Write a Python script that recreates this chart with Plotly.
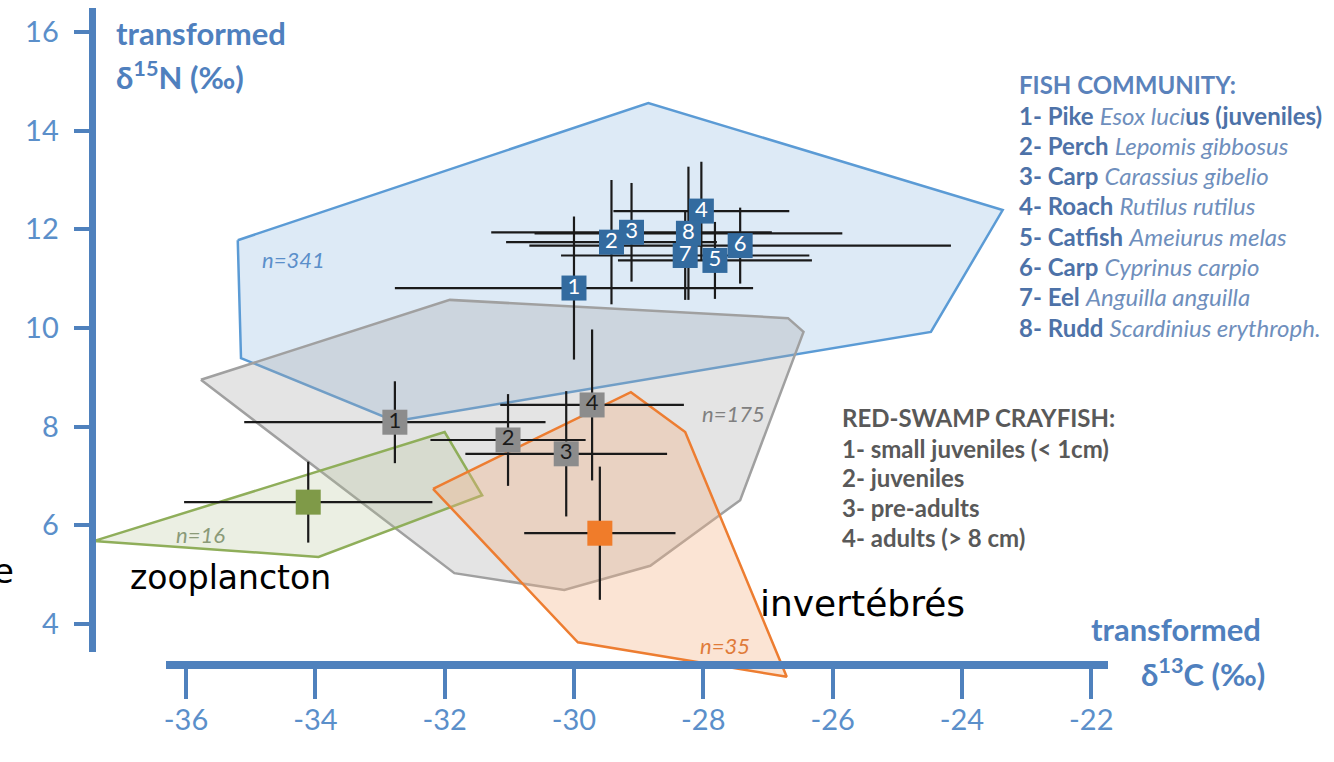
import plotly.graph_objects as go

W, H = 1334, 762

# ---------------- data ----------------
# convex hulls (transformed d13C, transformed d15N)
fish_hull_x = [-35.20, -28.85, -23.37, -24.48, -32.77, -35.15]
fish_hull_y = [11.78, 14.56, 12.39, 9.92, 8.11, 9.39]

cray_hull_x = [-35.77, -31.92, -26.69, -26.45, -27.43, -28.82, -30.15, -31.85]
cray_hull_y = [8.95, 10.57, 10.20, 9.92, 6.51, 5.18, 4.69, 5.03]

zoo_hull_x = [-37.43, -32.00, -31.42, -33.95]
zoo_hull_y = [5.68, 7.89, 6.61, 5.36]

inv_hull_x = [-32.18, -29.12, -28.28, -26.71, -29.94]
inv_hull_y = [6.74, 8.70, 7.89, 2.93, 3.63]

# group means with standard deviations
fish_ids = ["1", "2", "3", "4", "5", "6", "7", "8"]
fish_x = [-30.00, -29.42, -29.11, -28.03, -27.82, -27.43, -28.28, -28.23]
fish_y = [10.81, 11.74, 11.94, 12.37, 11.37, 11.67, 11.47, 11.92]
fish_xsd = [2.77, 1.63, 2.17, 1.36, 1.50, 3.26, 1.92, 2.38]
fish_ysd = [1.45, 1.26, 1.00, 1.00, 0.78, 0.77, 0.90, 1.35]

cray_ids = ["1", "2", "3", "4"]
cray_x = [-32.77, -31.02, -30.12, -29.72]
cray_y = [8.09, 7.73, 7.45, 8.44]
cray_xsd = [2.33, 1.20, 1.56, 1.42]
cray_ysd = [0.83, 0.93, 1.27, 1.53]

zoo_x, zoo_y, zoo_xsd, zoo_ysd = [-34.11], [6.47], [1.92], [0.82]
inv_x, inv_y, inv_xsd, inv_ysd = [-29.60], [5.84], [1.17], [1.35]

x_ticks = [-36, -34, -32, -30, -28, -26, -24, -22]
y_ticks = [4, 6, 8, 10, 12, 14, 16]

fish_names = ["Pike", "Perch", "Carp", "Roach", "Catfish", "Carp", "Eel", "Rudd"]
fish_species = ["Esox luci", "Lepomis gibbosus", "Carassius gibelio", "Rutilus rutilus",
                "Ameiurus melas", "Cyprinus carpio", "Anguilla anguilla",
                "Scardinius erythroph."]
fish_suffix = ["us (juveniles)", "", "", "", "", "", "", ""]

cray_stages = ["small juveniles (< 1cm)", "juveniles", "pre-adults", "adults (> 8 cm)"]

# ---------------- styling ----------------
AXIS = "#4f81bd"
TICK = "#5b8fca"
FONT = "Lato"

# pixel frame of the drawing: -36 sits at 185 px, 16 at 32 px
def px_x(px):
    return -36 + (px - 185) / 65.0

def px_y(py):
    return 16 - (py - 32) / 49.333


def hull(xs, ys, line, fill, name):
    return go.Scatter(
        x=xs + xs[:1], y=ys + ys[:1], mode="lines", fill="toself",
        line=dict(color=line, width=2.5), fillcolor=fill,
        hoverinfo="skip", showlegend=False, name=name)


def means(xs, ys, xsd, ysd, ids, face, txt, name):
    if ids:
        kw = dict(mode="markers+text", text=ids, textposition="middle center",
                  textfont=dict(family=FONT, size=22, color=txt))
    else:
        kw = dict(mode="markers")
    return go.Scatter(
        x=xs, y=ys,
        marker=dict(symbol="square", size=25, color=face, line=dict(width=0)),
        error_x=dict(type="data", array=xsd, thickness=2.2, width=0, color="#1a1a1a"),
        error_y=dict(type="data", array=ysd, thickness=2.2, width=0, color="#1a1a1a"),
        cliponaxis=False, showlegend=False, name=name, **kw)


fig = go.Figure()
fig.add_trace(hull(fish_hull_x, fish_hull_y, "#5b9bd5", "rgba(157,195,230,0.35)", "fish"))
fig.add_trace(hull(cray_hull_x, cray_hull_y, "#a0a0a0", "rgba(165,165,165,0.30)", "crayfish"))
fig.add_trace(hull(zoo_hull_x, zoo_hull_y, "#8fae5a", "rgba(175,192,145,0.25)", "zooplancton"))
fig.add_trace(hull(inv_hull_x, inv_hull_y, "#ed7d31", "rgba(244,177,131,0.35)", "invertebrates"))

fig.add_trace(means(cray_x, cray_y, cray_xsd, cray_ysd, cray_ids, "#8c8c8c", "#1a1a1a", "crayfish"))
fig.add_trace(means(zoo_x, zoo_y, zoo_xsd, zoo_ysd, None, "#7f9a48", "#ffffff", "zooplancton"))
fig.add_trace(means(inv_x, inv_y, inv_xsd, inv_ysd, None, "#f07c2a", "#ffffff", "invertebrates"))
fig.add_trace(means(fish_x, fish_y, fish_xsd, fish_ysd, fish_ids, "#336b9f", "#ffffff", "fish"))

# the drawn axes live on their own subplot
fig.add_trace(go.Scatter(x=[], y=[], xaxis="x2", yaxis="y2", mode="markers",
                         showlegend=False, hoverinfo="skip"))

annotations = []


def note(text, px, py, size, color, xanchor="left", family=FONT):
    annotations.append(dict(
        text=text, x=px / W, y=1 - py / H, xref="paper", yref="paper",
        xanchor=xanchor, yanchor="middle", showarrow=False, align="left",
        font=dict(family=family, size=size, color=color)))


# axis titles
note("<b>transformed</b>", 113, 33, 31, "#4f80be")
note("<b>δ<sup>15</sup>N (‰)</b>", 113, 76, 31, "#4f80be")
note("<b>transformed</b>", 1093, 629, 31, "#4f80be")
note("<b>δ<sup>13</sup>C (‰)</b>", 1143, 672, 31, "#4f80be")

# fish legend
note("<b>FISH COMMUNITY:</b>", 1020, 85, 24, "#5a82bb")
for i, (nm, sp, sx) in enumerate(zip(fish_names, fish_species, fish_suffix)):
    txt = (f"<b>{i + 1}- {nm}</b> <span style='color:#6f8fbd'><i>{sp}</i></span>"
           + (f"<b>{sx}</b>" if sx else ""))
    note(txt, 1020, 115 + i * 30.3, 24, "#4d72a8")

# crayfish legend
note("<b>RED-SWAMP CRAYFISH:</b>", 842, 418, 24, "#595959")
for i, st in enumerate(cray_stages):
    note(f"<b>{i + 1}- {st}</b>", 842, 448 + i * 29.8, 24, "#595959")

# sample sizes
note("<i>n=341</i>", 259, 259, 22, "#5b8fca")
note("<i>n=175</i>", 702, 413, 22, "#808080")
note("<i>n=16</i>", 173, 534, 22, "#8a9a78")
note("<i>n=35</i>", 700, 645, 22, "#e07b39")

# resource labels
note("zooplancton", 127, 577, 33, "#000000", family="DejaVu Sans")
note("invertébrés", 760, 603, 36, "#000000", family="DejaVu Sans")
note("e", 14, 571, 34, "#000000", xanchor="right", family="DejaVu Sans")

fig.update_layout(
    width=W, height=H, margin=dict(l=0, r=0, t=0, b=0),
    paper_bgcolor="white", plot_bgcolor="rgba(0,0,0,0)",
    xaxis=dict(domain=[0, 1], range=[px_x(0), px_x(W)], visible=False, fixedrange=True),
    yaxis=dict(domain=[0, 1], range=[px_y(H), px_y(0)], visible=False, fixedrange=True),
    xaxis2=dict(domain=[165 / W, 1112 / W], range=[px_x(165), px_x(1112)],
                anchor="free", position=1 - 665 / H,
                showline=True, linecolor=AXIS, linewidth=8,
                ticks="outside", ticklen=30, tickwidth=3.5, tickcolor=AXIS,
                tickvals=x_ticks, ticktext=[str(v) for v in x_ticks],
                tickfont=dict(family=FONT, size=29, color=TICK),
                ticklabelstandoff=-4,
                showgrid=False, zeroline=False, fixedrange=True),
    yaxis2=dict(domain=[1 - 652 / H, 1 - 8 / H], range=[px_y(652), px_y(8)],
                anchor="free", position=90 / W,
                showline=True, linecolor=AXIS, linewidth=7,
                ticks="outside", ticklen=15, tickwidth=4, tickcolor=AXIS,
                tickvals=y_ticks, ticktext=[str(v) for v in y_ticks],
                tickfont=dict(family=FONT, size=29, color=TICK),
                ticklabelstandoff=9,
                showgrid=False, zeroline=False, fixedrange=True),
    annotations=annotations,
    showlegend=False,
)

fig.write_html("out.html")
